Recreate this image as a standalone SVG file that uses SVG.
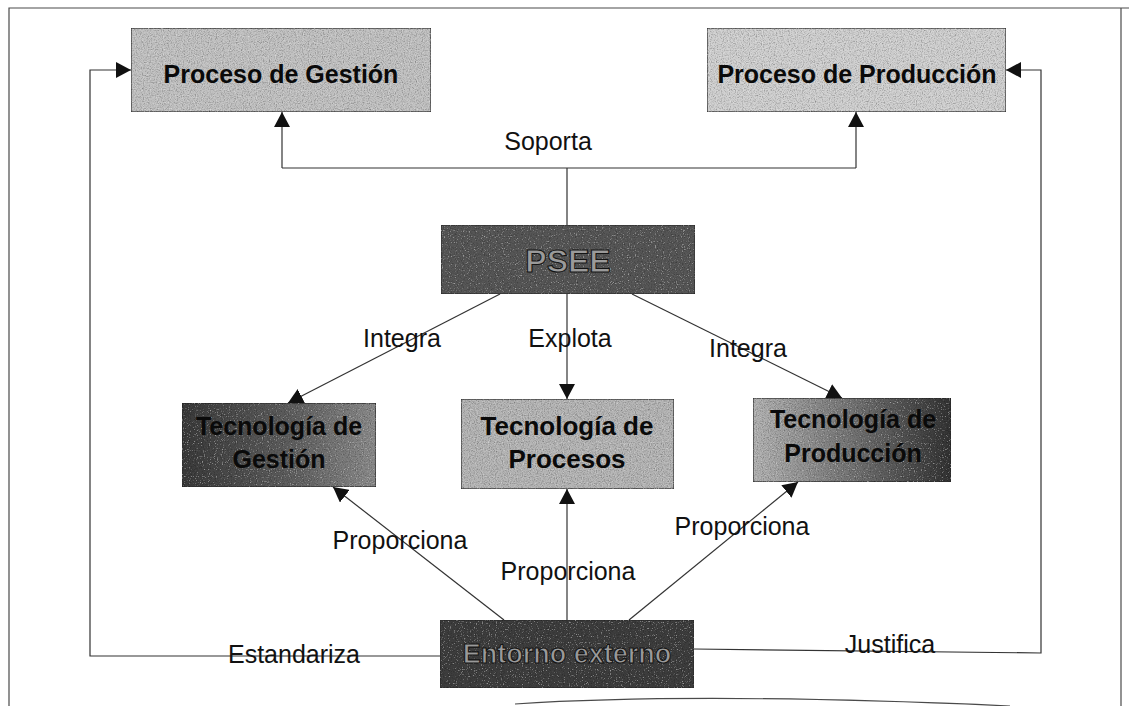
<svg xmlns="http://www.w3.org/2000/svg" width="1129" height="706" viewBox="0 0 1129 706">
<defs>
<style>
.frame{fill:none;stroke:#4a4a4a;stroke-width:1.2}
.conn{fill:none;stroke:#333;stroke-width:1.2}
.box{stroke:#2a2a2a;stroke-width:1.2}
.lbl{font-family:"Liberation Sans",Arial,sans-serif;font-size:25px;fill:#111;text-anchor:middle}
.ttl{font-family:"Liberation Sans",Arial,sans-serif;font-weight:bold;fill:#0a0a0a;text-anchor:middle}
.dk{fill:#9a9a9a;stroke:#151515;stroke-width:1.1}
</style>
<filter id="grain" x="0" y="0" width="1" height="1">
<feTurbulence type="fractalNoise" baseFrequency="0.85" numOctaves="2" seed="4" result="t"/>
<feColorMatrix in="t" type="matrix" values="0 0 0 0 0  0 0 0 0 0  0 0 0 0 0  1.3 0 0 0 -0.58" result="dark"/>
<feColorMatrix in="t" type="matrix" values="0 0 0 0 1  0 0 0 0 1  0 0 0 0 1  -1.3 0 0 0 0.48" result="light"/>
<feMerge result="m"><feMergeNode in="SourceGraphic"/><feMergeNode in="dark"/><feMergeNode in="light"/></feMerge>
<feComposite in="m" in2="SourceAlpha" operator="in"/>
</filter>
<linearGradient id="gGest" x1="0" y1="0" x2="1" y2="0">
<stop offset="0" stop-color="#3a3a3a"/><stop offset="0.55" stop-color="#5e5e5e"/><stop offset="1" stop-color="#8c8c8c"/>
</linearGradient>
<linearGradient id="gProd" x1="0" y1="0" x2="1" y2="0">
<stop offset="0" stop-color="#b4b4b4"/><stop offset="0.45" stop-color="#7a7a7a"/><stop offset="1" stop-color="#333"/>
</linearGradient>
<marker id="arr" markerUnits="userSpaceOnUse" markerWidth="16" markerHeight="16" refX="15" refY="8" orient="auto">
<path d="M0,0 L15,8 L0,16 z" fill="#111"/>
</marker>
</defs>
<rect width="1129" height="706" fill="#fff"/>
<g id="frame">
<path class="frame" d="M9,706 V8 H1129"/>
<path class="frame" d="M1121,8 V706"/>
<path class="frame" d="M515,704 Q700,692 1010,706"/>
</g>
<g id="connectors">
<path class="conn" d="M567,225 V168 M282,168 H856"/>
<path class="conn" d="M282,168 V112" marker-end="url(#arr)"/>
<path class="conn" d="M856,168 V112" marker-end="url(#arr)"/>
<path class="conn" d="M440,656 H90 V70 H131" marker-end="url(#arr)"/>
<path class="conn" d="M694,649 L1041,653 V70 H1006" marker-end="url(#arr)"/>
<path class="conn" d="M500,294 L288,403" marker-end="url(#arr)"/>
<path class="conn" d="M567,294 V399" marker-end="url(#arr)"/>
<path class="conn" d="M632,294 L842,398" marker-end="url(#arr)"/>
<path class="conn" d="M504,620 L333,487" marker-end="url(#arr)"/>
<path class="conn" d="M567,620 V489" marker-end="url(#arr)"/>
<path class="conn" d="M629,620 L798,482" marker-end="url(#arr)"/>
<text class="lbl" x="548" y="150">Soporta</text>
<text class="lbl" x="402" y="347">Integra</text>
<text class="lbl" x="570" y="347">Explota</text>
<text class="lbl" x="748" y="357">Integra</text>
<text class="lbl" x="400" y="549">Proporciona</text>
<text class="lbl" x="568" y="580">Proporciona</text>
<text class="lbl" x="742" y="535">Proporciona</text>
<text class="lbl" x="294" y="663">Estandariza</text>
<text class="lbl" x="890" y="653">Justifica</text>
</g>
<g id="proceso-gestion">
<rect class="box" x="131" y="28" width="300" height="84" fill="#c2c2c2" filter="url(#grain)"/>
<text class="ttl" x="281" y="83" font-size="25">Proceso de Gestión</text>
</g>
<g id="proceso-produccion">
<rect class="box" x="707" y="28" width="299" height="84" fill="#d0d0d0" filter="url(#grain)"/>
<text class="ttl" x="857" y="83" font-size="25">Proceso de Producción</text>
</g>
<g id="psee">
<rect class="box" x="441" y="225" width="254" height="69" fill="#575757" filter="url(#grain)"/>
<text class="ttl dk" x="568" y="272" font-size="32">PSEE</text>
</g>
<g id="tec-gestion">
<rect class="box" x="182" y="403" width="194" height="84" fill="url(#gGest)" filter="url(#grain)"/>
<text class="ttl" x="279" y="435" font-size="25">Tecnología de</text>
<text class="ttl" x="279" y="468" font-size="25">Gestión</text>
</g>
<g id="tec-procesos">
<rect class="box" x="461" y="399" width="213" height="90" fill="#b6b6b6" filter="url(#grain)"/>
<text class="ttl" x="567" y="435" font-size="26">Tecnología de</text>
<text class="ttl" x="567" y="468" font-size="26">Procesos</text>
</g>
<g id="tec-produccion">
<rect class="box" x="753" y="398" width="198" height="84" fill="url(#gProd)" filter="url(#grain)"/>
<text class="ttl" x="853" y="428" font-size="25">Tecnología de</text>
<text class="ttl" x="853" y="462" font-size="25">Producción</text>
</g>
<g id="entorno-externo">
<rect class="box" x="440" y="620" width="254" height="68" fill="#3e3e3e" filter="url(#grain)"/>
<text class="ttl dk" x="567" y="663" font-size="27">Entorno externo</text>
</g>
</svg>
